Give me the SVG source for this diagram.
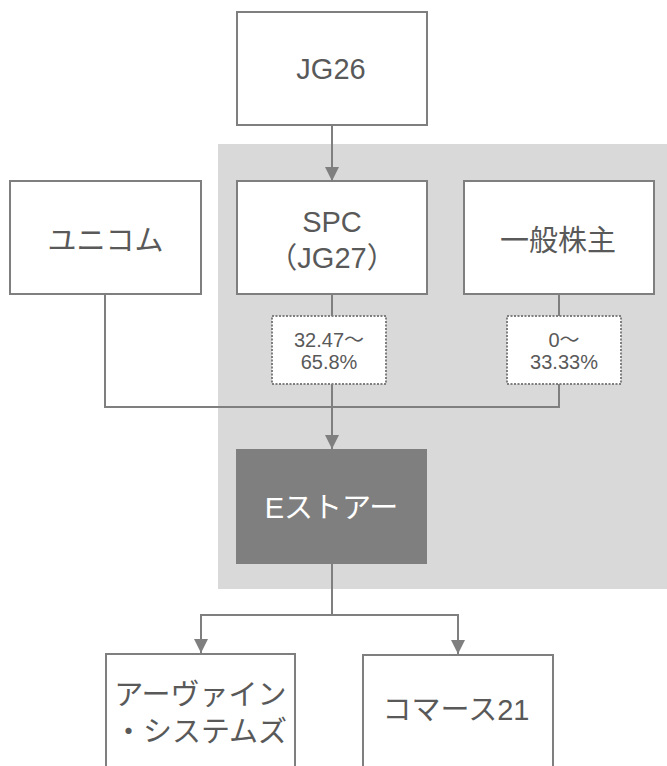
<svg xmlns="http://www.w3.org/2000/svg" width="667" height="766" viewBox="0 0 667 766">
<defs>
<style>
.box{fill:#ffffff;stroke:#7f7f7f;stroke-width:2}
.pct{fill:#ffffff;stroke:#7f7f7f;stroke-width:2;stroke-dasharray:2 1.5}
.t{font-family:"Liberation Sans","Noto Sans CJK JP",sans-serif;font-size:29px;fill:#595959;text-anchor:middle}
.s{font-family:"Liberation Sans","Noto Sans CJK JP",sans-serif;font-size:20px;fill:#595959;text-anchor:middle}
.c{fill:none;stroke:#7f7f7f;stroke-width:2}
</style>
<marker id="ah" viewBox="0 0 14 14" refX="14" refY="7" markerWidth="14" markerHeight="14" markerUnits="userSpaceOnUse" orient="auto">
<path d="M0,0 L14,7 L0,14 Z" fill="#7f7f7f"/>
</marker>
</defs>
<rect x="218" y="144" width="449" height="445" fill="#d9d9d9"/>
<g id="connectors">
<line class="c" x1="332" y1="125" x2="332" y2="181" marker-end="url(#ah)"/>
<line class="c" x1="332" y1="294" x2="332" y2="316"/>
<line class="c" x1="559" y1="294" x2="559" y2="316"/>
<polyline class="c" points="105,294 105,407 559,407 559,384"/>
<line class="c" x1="332" y1="384" x2="332" y2="449" marker-end="url(#ah)"/>
<line class="c" x1="332" y1="564" x2="332" y2="615"/>
<line class="c" x1="200" y1="615" x2="459" y2="615"/>
<line class="c" x1="201" y1="615" x2="201" y2="653" marker-end="url(#ah)"/>
<line class="c" x1="458" y1="615" x2="458" y2="654" marker-end="url(#ah)"/>
</g>
<g id="jg26"><rect class="box" x="237" y="12" width="190" height="113"/><text class="t" x="331" y="79">JG26</text></g>
<g id="unicom"><rect class="box" x="10" y="181" width="191" height="113"/><text class="t" x="105.5" y="251">ユニコム</text></g>
<g id="spc"><rect class="box" x="237" y="181" width="190" height="113"/><text class="t" x="332" y="232">SPC</text><text class="t" x="332" y="268">（JG27）</text></g>
<g id="general"><rect class="box" x="464" y="181" width="190" height="113"/><text class="t" x="558" y="251">一般株主</text></g>
<g id="pct1"><rect class="pct" x="272" y="316" width="114" height="68"/><text class="s" x="329" y="347">32.47～</text><text class="s" x="329" y="369">65.8%</text></g>
<g id="pct2"><rect class="pct" x="507" y="316" width="114" height="68"/><text class="s" x="564" y="347">0～</text><text class="s" x="564" y="369">33.33%</text></g>
<g id="estore"><rect x="236" y="449" width="191" height="115" fill="#7f7f7f"/><text class="t" x="331.5" y="518" style="fill:#ffffff">Eストアー</text></g>
<g id="irvine"><rect class="box" x="106" y="654" width="189" height="130"/><text class="t" x="200.5" y="705">アーヴァイン</text><text class="t" x="200.5" y="742">・システムズ</text></g>
<g id="commerce"><rect class="box" x="363" y="655" width="190" height="130"/><text class="t" x="456" y="720">コマース21</text></g>
</svg>
